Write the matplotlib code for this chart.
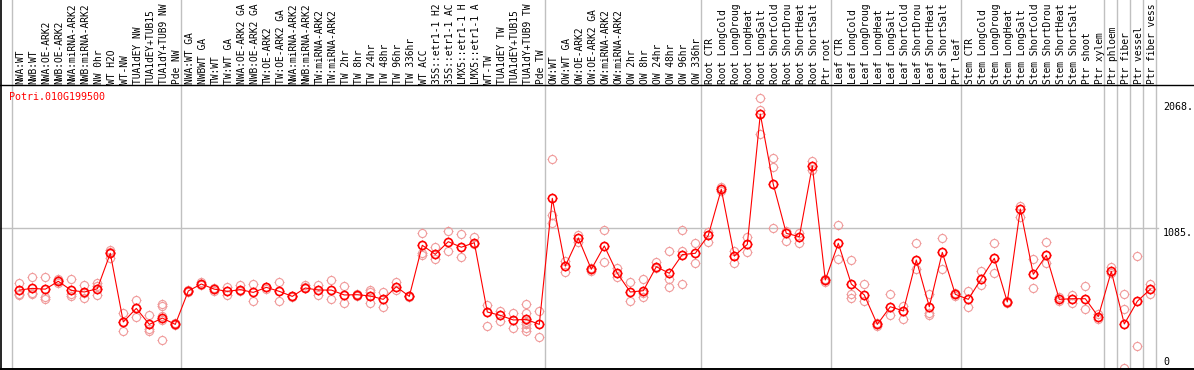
import matplotlib
matplotlib.use("Agg")
import matplotlib.pyplot as plt
from matplotlib.path import Path

#%% Data

gene = "Potri.010G199500"

samples = [
    "NWA:WT", "NWB:WT", "NWA:OE-ARK2", "NWB:OE-ARK2", "NWA:miRNA-ARK2", "NWB:miRNA-ARK2",
    "NW 0hr", "WT H2O", "WT-NW", "TUA1dEY NW", "TUA1dEY+TUB15 NW", "TUA1dY+TUB9 NW", "Pde NW",
    "NWA:WT GA", "NWBWT GA", "TW:WT", "TW:WT GA", "NWA:OE-ARK2 GA", "NWB:OE-ARK2 GA",
    "TW:OE-ARK2", "TW:OE-ARK2 GA", "NWA:miRNA-ARK2 GA", "NWB:miRNA-ARK2 GA", "TW:miRNA-ARK2",
    "TW:miRNA-ARK2 GA", "TW 2hr", "TW 8hr", "TW 24hr", "TW 48hr", "TW 96hr", "TW 336hr",
    "WT ACC", "35S::etr1-1 H2O", "35S::etr1-1 ACC", "LMX5::etr1-1 H2O", "LMX5::etr1-1 ACC",
    "WT-TW", "TUA1dEY TW", "TUA1dEY+TUB15 TW", "TUA1dY+TUB9 TW", "Pde TW",
    "OW:WT", "OW:WT GA", "OW:OE-ARK2", "OW:OE-ARK2 GA", "OW:miRNA-ARK2", "OW:miRNA-ARK2 GA",
    "OW 2hr", "OW 8hr", "OW 24hr", "OW 48hr", "OW 96hr", "OW 336hr",
    "Root CTR", "Root LongCold", "Root LongDrought", "Root LongHeat", "Root LongSalt",
    "Root ShortCold", "Root ShortDrought", "Root ShortHeat", "Root ShortSalt", "Ptr root",
    "Leaf CTR", "Leaf LongCold", "Leaf LongDrought", "Leaf LongHeat", "Leaf LongSalt",
    "Leaf ShortCold", "Leaf ShortDrought", "Leaf ShortHeat", "Leaf ShortSalt", "Ptr leaf",
    "Stem CTR", "Stem LongCold", "Stem LongDrought", "Stem LongHeat", "Stem LongSalt",
    "Stem ShortCold", "Stem ShortDrought", "Stem ShortHeat", "Stem ShortSalt", "Ptr shoot",
    "Ptr xylem", "Ptr phloem", "Ptr fiber", "Ptr vessel", "Ptr fiber vessel",
]

# number of samples between the grey separators
group_sizes = [13, 28, 12, 10, 10, 11, 1, 1, 1, 1]

means = [
    604, 617, 611, 672, 602, 589, 614, 889, 357, 462, 338, 387, 338,
    597, 651, 611, 594, 607, 586, 625, 594, 555, 620, 604, 604, 566, 568, 558, 532, 630,
    555, 951, 881, 979, 936, 971, 434, 408, 372, 377, 338,
    1315, 790, 1007, 765, 946, 734, 589, 599, 785, 734, 879, 889,
    1028, 1385, 868, 958, 1968, 1423, 1044, 1018, 1566, 682,
    966, 651, 566, 338, 475, 442, 837, 475, 896, 571,
    532, 692, 850, 512, 1232, 726, 873, 532, 537, 537,
    398, 749, 341, 517, 611,
]

replicates = [
    [656, 573, 568], [703, 571, 580], [703, 547, 532], [693, 661, 680], [687, 573, 558],
    [641, 580, 542], [661, 635, 563], [915, 900, 852], [429, 357, 284], [527, 462, 398],
    [413, 305, 289], [493, 483, 403, 372, 217], [345, 333],
    [605, 590], [666, 640], [620, 600], [625, 563], [641, 600], [651, 522], [630, 615],
    [666, 522], [560, 550], [646, 630], [646, 563], [682, 532], [635, 501], [575, 560],
    [604, 589, 501], [589, 475], [666, 604], [560, 550], [1044, 889, 879], [936, 843],
    [1059, 904], [1039, 863], [1018, 960], [488, 326], [439, 367], [429, 310],
    [493, 429, 360, 340, 310, 289], [444, 243],
    [1617, 1189, 1122], [831, 744], [1033, 980], [775, 755], [1070, 823], [775, 703],
    [666, 516], [687, 547, 580], [823, 775], [904, 692, 625], [1070, 904, 651], [967, 817],
    [1054, 977], [1400, 1370], [904, 817], [1018, 899], [2090, 2000, 1813],
    [1625, 1561, 1083], [1060, 987], [1050, 967], [1607, 1535], [690, 670],
    [1108, 843], [838, 573, 540], [651, 516], [350, 325], [572, 408], [480, 377],
    [966, 767], [572, 430, 408], [1007, 767], [585, 560],
    [594, 470], [749, 641], [972, 734], [520, 500], [1258, 1170], [843, 620], [974, 817],
    [550, 520], [565, 500], [636, 459],
    [420, 380], [785, 740], [572, 460, 0], [868, 171], [651, 570],
]

y_ticks = [2068, 1085, 0]
y_tick_labels = ["2068.", "1085.", "0"]

# the header only has room for 14 characters
max_chars = 14

#%% Pixel helpers (figure is 1194 x 370 px)

W, H = 1194, 370
x0, dx = 19.3, 13.0      # px of first sample, px per sample
y0, dy = 368.0, 7.75     # px of value 0, value per px

def xd(px):
    return (px - x0) / dx

def yd(py):
    return (y0 - py) * dy

#%% Plot

fig = plt.figure(figsize=(W / 100, H / 100), dpi=100)
ax = fig.add_axes([0, 0, 1, 1])
ax.set_xlim(xd(0), xd(W))
ax.set_ylim(yd(H), yd(0))
ax.axis("off")

mono = "DejaVu Sans Mono"
grey = "#c0c0c0"

# grey separators between sample groups
edges = [-0.6]
pos = 0
for g in group_sizes:
    pos += g
    edges.append(pos - 0.6)
for e in edges:
    ax.axvline(e, color=grey, lw=1, zorder=1)

# horizontal grid line at middle tick
ax.plot([xd(0), xd(1158)], [1085, 1085], color=grey, lw=1, zorder=1)

# frame lines
ax.axvline(xd(1.3), color="black", lw=1.2, zorder=5)
ax.axhline(yd(85), color="black", lw=1, zorder=5)
ax.axhline(yd(368.5), color="black", lw=1.4, zorder=5)

# sample labels in the header (cut to what fits)
for i, s in enumerate(samples):
    lab = s[:max_chars].rstrip()
    ax.text(i + 0.1, yd(83.5), lab, rotation=90, ha="center", va="bottom",
            family=mono, fontsize=6.9, color="black", zorder=6)

# little ticks around the circles
ticks = Path([(0, 0.75), (0, 1), (0, -0.75), (0, -1), (0.75, 0), (1, 0), (-0.75, 0), (-1, 0)],
             [Path.MOVETO, Path.LINETO] * 4)

rep_col = "#f09a9a"
for i, reps in enumerate(replicates):
    xs = [i] * len(reps)
    ax.plot(xs, reps, ls="none", marker="o", ms=5.8, mfc="none", mec=rep_col, mew=0.8, zorder=2)
    ax.plot(xs, reps, ls="none", marker=ticks, ms=7.6, mec=rep_col, mew=0.8, zorder=2)

idx = list(range(len(means)))
ax.plot(idx, means, color="red", lw=0.8, zorder=3)
ax.plot(idx, means, ls="none", marker="o", ms=5.8, mfc="none", mec="red", mew=1.2, zorder=4)
ax.plot(idx, means, ls="none", marker=ticks, ms=7.6, mec="red", mew=0.9, zorder=4)

# gene name
ax.text(xd(9), yd(97), gene, color="red", family=mono, fontsize=7.2, ha="left", va="center")

# value labels on the right
label_py = [107, 233, 362]
for lab, py in zip(y_tick_labels, label_py):
    ax.text(xd(1163), yd(py), lab, family=mono, fontsize=7.2, ha="left", va="center")

fig.savefig("out.png", dpi=100)
